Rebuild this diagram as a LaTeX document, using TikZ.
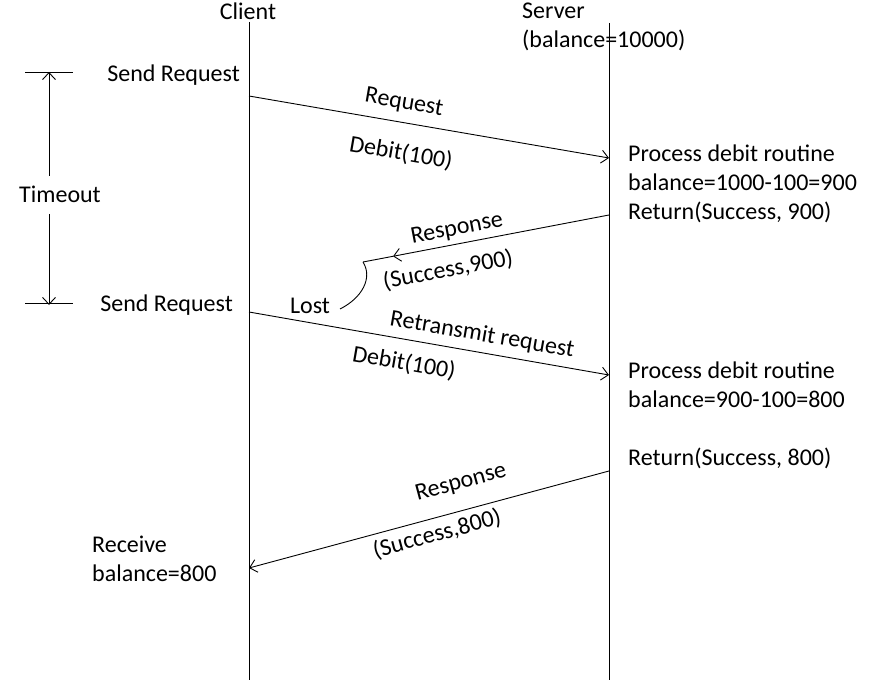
\documentclass[tikz,border=0pt]{standalone}
\usepackage{fontspec}
\setmainfont{Carlito}
\usetikzlibrary{arrows.meta}
\tikzset{
  lbl/.style={font=\fontsize{24}{29}\selectfont, inner sep=0pt},
  life/.style={line width=0.9pt},
  msg/.style={line width=0.9pt, -{Straight Barb[length=7pt,width=13pt,line width=0.9pt]}},
  plain/.style={line width=0.9pt}
}
\begin{document}
\begin{tikzpicture}[x=1pt,y=-1pt]
\useasboundingbox (0,0) rectangle (884,687);
% lifelines
\coordinate (ctop) at (249,22);
\coordinate (cbot) at (249,680);
\coordinate (stop) at (609,23);
\coordinate (sbot) at (609,680);
\draw[life] (ctop) -- (cbot);
\draw[life] (stop) -- (sbot);
\node[lbl] (client) at (248,11) {Client};
\node[lbl, anchor=west] (server) at (522,11) {Server};
\node[lbl, anchor=west] (sbal) at (522,40) {(balance=10000)};
% timeout
\node[lbl, anchor=east] (send1) at (240,75) {Send Request};
\node[lbl, anchor=east] (send2) at (233,305) {Send Request};
\node[lbl] (tout) at (60,194) {Timeout};
\coordinate (tl1) at (25,72); \coordinate (tr1) at (73,72);
\coordinate (tl2) at (25,303); \coordinate (tr2) at (73,303);
\coordinate (ttop) at (49,72); \coordinate (tbot) at (49,305);
\coordinate (tm1) at (49,176); \coordinate (tm2) at (49,214);
\draw[plain] (tl1) -- (tr1);
\draw[plain] (tl2) -- (tr2);
\draw[msg] (tm1) -- (ttop);
\draw[msg] (tm2) -- (tbot);
% request 1
\coordinate (r1a) at (249,96);
\coordinate (r1b) at (609,158);
\draw[msg] (r1a) -- (r1b);
\node[lbl, rotate=-9.8] (req1) at (404,103) {Request};
\node[lbl, rotate=-9.8] (deb1) at (401,153) {Debit(100)};
\node[lbl, anchor=west, align=left] (proc1) at (628,184) {Process debit routine\\balance=1000-100=900\\Return(Success, 900)};
% response 1 (lost)
\coordinate (s1a) at (609,215);
\coordinate (s1tip) at (393,256.3);
\coordinate (lostA) at (363,262);
\coordinate (lostB) at (340,309);
\draw[msg] (s1a) -- (s1tip);
\draw[plain] (s1tip) -- (lostA);
\draw[plain] (lostA) .. controls (373,278) and (362,298) .. (lostB);
\node[lbl, rotate=10.8] (resp1) at (457,229) {Response};
\node[lbl, rotate=10.8] (succ1) at (448,270) {(Success,900)};
\node[lbl] (lost) at (310,306) {Lost};
% retransmit
\coordinate (r2a) at (249,312);
\coordinate (r2b) at (609,375);
\draw[msg] (r2a) -- (r2b);
\node[lbl, rotate=-9.9] (retr) at (482,335) {Retransmit request};
\node[lbl, rotate=-9.9] (deb2) at (404,363) {Debit(100)};
\node[lbl, anchor=west, align=left] (proc2) at (628,385) {Process debit routine\\balance=900-100=800};
\node[lbl, anchor=west] (ret2) at (628,458) {Return(Success, 800)};
% response 2
\coordinate (s2a) at (609,471);
\coordinate (s2b) at (249,568);
\draw[msg] (s2a) -- (s2b);
\node[lbl, rotate=15.1] (resp2) at (461,483) {Response};
\node[lbl, rotate=15.1] (succ2) at (437,534) {(Success,800)};
\node[lbl, anchor=west, align=left] (recv) at (92,559) {Receive\\balance=800};
\end{tikzpicture}
\end{document}
